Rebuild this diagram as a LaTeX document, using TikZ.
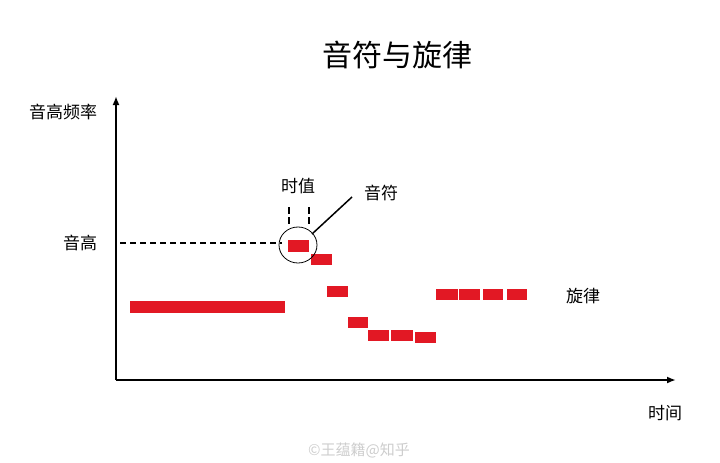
\documentclass[tikz,border=0pt]{standalone}
\usepackage{fontspec}
\setmainfont{Noto Sans CJK SC}
\usetikzlibrary{arrows.meta,shapes.geometric}
\definecolor{notered}{RGB}{226,24,36}
\definecolor{wm}{RGB}{205,205,205}
\tikzset{
  notebox/.style={fill=notered,draw=none},
  lbl/.style={font=\fontsize{17}{20}\selectfont,inner sep=0pt},
  axis/.style={line width=1.8pt,-{Latex[length=9pt,width=7pt]}},
}
\begin{document}
\begin{tikzpicture}[x=1pt,y=-1pt]
\useasboundingbox (0,0) rectangle (720,463);
% title
\node[inner sep=0pt,font=\fontsize{30}{34}\selectfont] (title) at (397,55) {音符与旋律};
% axes
\coordinate (origin) at (116,380);
\coordinate (ytip) at (116,96);
\coordinate (xtip) at (676,380);
\draw[axis] (origin) -- (ytip);
\draw[axis] (origin) -- (xtip);
\node[lbl] (ylab) at (63,112) {音高频率};
\node[lbl] (xlab) at (665,413) {时间};
% notes
\fill[notebox] (130,301) rectangle (285,313);
\node[notebox,inner sep=0pt,minimum width=21pt,minimum height=12pt] (n1) at (298.5,245.5) {};
\fill[notebox] (311,254) rectangle (332,265);
\fill[notebox] (327,286) rectangle (348,297);
\fill[notebox] (348,317) rectangle (368,328);
\fill[notebox] (368,330) rectangle (389,341);
\fill[notebox] (391,330) rectangle (413,341);
\fill[notebox] (415,332) rectangle (436,343);
\fill[notebox] (436,289) rectangle (458,300);
\fill[notebox] (459,289) rectangle (480,300);
\fill[notebox] (483,289) rectangle (503,300);
\fill[notebox] (507,289) rectangle (527,300);
% pitch
\node[lbl] (pitch) at (80,243) {音高};
\coordinate (dstart) at (120,243);
\draw[line width=1.2pt,dash pattern=on 6pt off 4pt] (dstart) -- (282,243);
% ellipse
\node[draw,ellipse,line width=0.8pt,minimum width=38pt,minimum height=36pt,inner sep=0pt] (circ) at (298,245) {};
% duration ticks
\coordinate (t1a) at (289,207); \coordinate (t1b) at (289,226);
\coordinate (t2a) at (309,207); \coordinate (t2b) at (309,226);
\draw[line width=1.5pt,dash pattern=on 7pt off 3pt] (t1a) -- (t1b);
\draw[line width=1.5pt,dash pattern=on 7pt off 3pt] (t2a) -- (t2b);
\node[lbl] (dur) at (298,186) {时值};
\node[lbl] (notelab) at (381,193) {音符};
\coordinate (lend) at (352,197);
\draw[line width=1.5pt] (312,234) -- (lend);
\node[lbl] (melody) at (583,296) {旋律};
% watermark
\node[inner sep=0pt,font=\fontsize{15}{17}\selectfont,text=wm] (wmark) at (359,450) {©王蕴籍@知乎};
\end{tikzpicture}
\end{document}
